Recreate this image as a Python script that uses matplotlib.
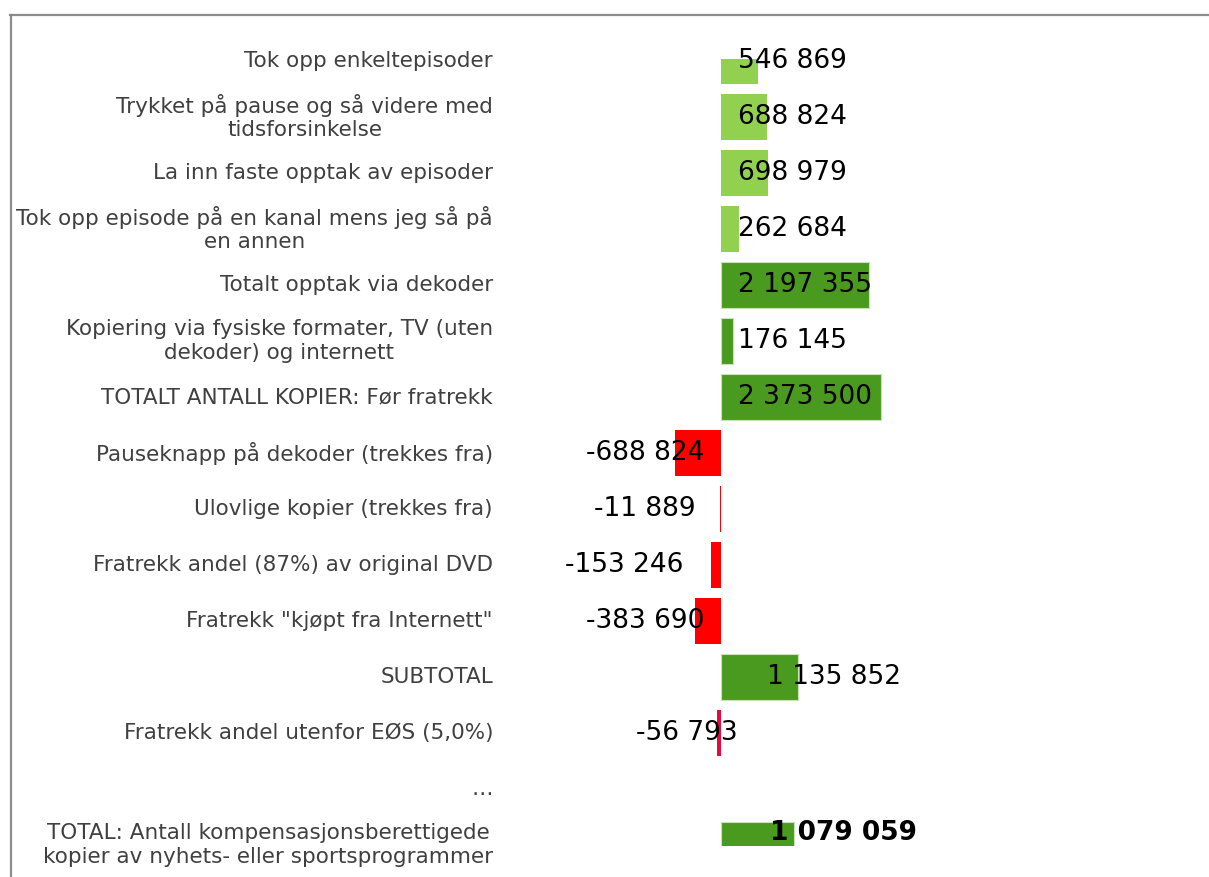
import matplotlib
matplotlib.use("Agg")
import matplotlib.pyplot as plt
import matplotlib.transforms as mtransforms
from matplotlib.lines import Line2D
import numpy as np

# ── Data ──────────────────────────────────────────────────────────────────────
categories = [
    "Tok opp enkeltepisoder",
    "Trykket på pause og så videre med\ntidsforsinkelse",
    "La inn faste opptak av episoder",
    "Tok opp episode på en kanal mens jeg så på\nen annen",
    "Totalt opptak via dekoder",
    "Kopiering via fysiske formater, TV (uten\ndekoder) og internett",
    "TOTALT ANTALL KOPIER: Før fratrekk",
    "Pauseknapp på dekoder (trekkes fra)",
    "Ulovlige kopier (trekkes fra)",
    "Fratrekk andel (87%) av original DVD",
    "Fratrekk \"kjøpt fra Internett\"",
    "SUBTOTAL",
    "Fratrekk andel utenfor EØS (5,0%)",
    "…",
    "TOTAL: Antall kompensasjonsberettigede\nkopier av nyhets- eller sportsprogrammer",
]
values = [546869, 688824, 698979, 262684, 2197355, 176145, 2373500,
          -688824, -11889, -153246, -383690, 1135852, -56793, np.nan, 1079059]
value_text = ["546 869", "688 824", "698 979", "262 684", "2 197 355", "176 145",
              "2 373 500", "-688 824", "-11 889", "-153 246", "-383 690",
              "1 135 852", "-56 793", "", "1 079 059"]

# ── Styles ────────────────────────────────────────────────────────────────────
LIGHT = "#92D050"
DARK = "#4A9A1F"
RED = "#FF0000"
CRIMSON = "#E8093C"
bar_colors = [LIGHT] * 4 + [DARK] * 3 + [RED] * 4 + [DARK, CRIMSON, "none", DARK]

# value label anchors (pixels from zero line) and alignment, as in the original
PX = 14830  # data units per pixel
label_anchor = [17, 17, 17, 17, 17, 17, 17, -17, -25, -38, -17, 46, 17, 0, 49]
label_ha = ["left"] * 7 + ["right"] * 4 + ["left", "right", "left", "left"]
label_dy = [0] * 14 + [-12]  # last label sits on the visible part of its bar

W, H = 1209, 877
fig = plt.figure(figsize=(W / 100, H / 100), dpi=100, facecolor="white")

ZERO_PX = 721
AX_L, AX_R = 520, 1209
AX_T, AX_B = 59, 846
ax = fig.add_axes([AX_L / W, 1 - AX_B / H, (AX_R - AX_L) / W, (AX_B - AX_T) / H])
ax.set_xlim(-(ZERO_PX - AX_L) * PX, (AX_R - ZERO_PX) * PX)
ROW0, STEP = 61, 56
ax.set_ylim((AX_B - ROW0) / STEP, (AX_T - ROW0) / STEP)
ax.axis("off")

y = np.arange(len(categories))
for yi, v, c in zip(y, values, bar_colors):
    if np.isnan(v):
        continue
    edge = "#c9e3b8" if c == DARK else c
    ax.barh(yi, v, height=46 / STEP, color=c, edgecolor=edge,
            linewidth=0.8 if c == DARK else 0)

# value labels
for yi, txt, a, ha, dy in zip(y, value_text, label_anchor, label_ha, label_dy):
    if not txt:
        continue
    bold = yi == len(categories) - 1
    ax.text(a * PX, yi + dy / STEP, txt, ha=ha, va="center", fontsize=19,
            color="black", fontweight="bold" if bold else "normal",
            clip_on=False, zorder=5)

# category labels
trans = mtransforms.blended_transform_factory(fig.transFigure, ax.transData)
for yi, cat in zip(y, categories):
    ax.text(493 / W, yi, cat, transform=trans, ha="right", va="center",
            multialignment="center", fontsize=15.5, color="#404040",
            linespacing=1.2, clip_on=False)

# frame lines (top and left)
fig.add_artist(Line2D([10 / W, 1], [1 - 14.5 / H, 1 - 14.5 / H],
                      transform=fig.transFigure, color="#8c8c8c", lw=1.6))
fig.add_artist(Line2D([10.5 / W, 10.5 / W], [0, 1 - 14.5 / H],
                      transform=fig.transFigure, color="#8c8c8c", lw=1.6))

fig.savefig("out.png", dpi=100, facecolor="white")
